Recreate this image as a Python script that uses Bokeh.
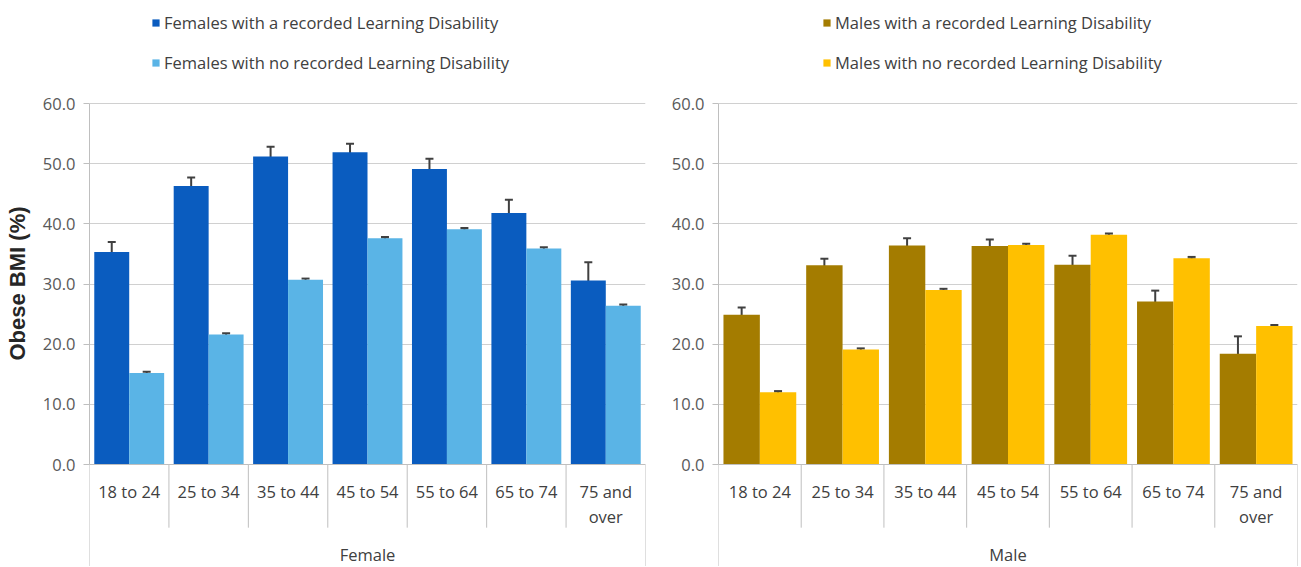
from bokeh.plotting import figure
from bokeh.models import (ColumnDataSource, FactorRange, Range1d, Legend, LegendItem,
                          Whisker, TeeHead, FixedTicker, NumeralTickFormatter)
from bokeh.transform import dodge
from bokeh.layouts import row
from bokeh.core.properties import value
from bokeh.embed import file_html
from bokeh.resources import INLINE

ages = ["18 to 24", "25 to 34", "35 to 44", "45 to 54", "55 to 64", "65 to 74", "75 and over"]
age_labels = ["18 to 24", "25 to 34", "35 to 44", "45 to 54", "55 to 64", "65 to 74", "75 and\nover"]

female_ld = [35.3, 46.3, 51.2, 51.9, 49.1, 41.8, 30.6]
female_ld_err = [1.7, 1.4, 1.6, 1.4, 1.7, 2.2, 3.0]
female_no = [15.2, 21.6, 30.7, 37.6, 39.1, 35.9, 26.4]
female_no_err = [0.2, 0.2, 0.2, 0.2, 0.2, 0.2, 0.2]

male_ld = [24.9, 33.1, 36.4, 36.3, 33.2, 27.1, 18.4]
male_ld_err = [1.2, 1.1, 1.2, 1.1, 1.5, 1.8, 2.9]
male_no = [12.0, 19.1, 29.0, 36.5, 38.2, 34.3, 23.0]
male_no_err = [0.2, 0.2, 0.2, 0.2, 0.2, 0.2, 0.2]

y_ticks = [0, 10, 20, 30, 40, 50, 60]

FONT = "Open Sans"
TXT = "#404040"
GRID = "#d0d0d0"
AXIS = "#bfbfbf"

H = 566
PX = 361 / 60.0
Y1 = 60 + 103 / PX
Y0 = -(H - 464) / PX


def make_panel(group, ld, ld_err, no, no_err, c_dark, c_light, lab_ld, lab_no,
               width, border_left, border_right, legend_x, ylabel):
    p = figure(x_range=FactorRange(*ages), y_range=Range1d(Y0, Y1),
               width=width, height=H, output_backend="svg", toolbar_location=None,
               x_axis_location=None, min_border_left=border_left,
               min_border_right=border_right, min_border_top=0, min_border_bottom=0)
    p.outline_line_color = None
    p.background_fill_color = "white"
    p.border_fill_color = "white"

    src = ColumnDataSource(dict(
        age=ages, label=age_labels, ld=ld, no=no,
        ld_lo=[v - e for v, e in zip(ld, ld_err)], ld_hi=[v + e for v, e in zip(ld, ld_err)],
        no_lo=[v - e for v, e in zip(no, no_err)], no_hi=[v + e for v, e in zip(no, no_err)],
        zero=[0] * len(ages), laby=[-2.5] * len(ages),
    ))

    # grid
    p.ygrid.ticker = FixedTicker(ticks=y_ticks)
    p.ygrid.grid_line_color = GRID
    p.ygrid.bounds = (0, 60)
    p.xgrid.grid_line_color = None

    # y axis
    ax = p.yaxis[0]
    ax.ticker = FixedTicker(ticks=y_ticks)
    ax.formatter = NumeralTickFormatter(format="0.0")
    ax.bounds = (0, 60)
    ax.axis_line_color = AXIS
    ax.major_tick_line_color = AXIS
    ax.major_tick_out = 6
    ax.major_tick_in = 0
    ax.minor_tick_line_color = None
    ax.major_label_text_font = FONT
    ax.major_label_text_font_size = "16.5px"
    ax.major_label_text_color = "#595959"
    ax.major_label_standoff = 8
    if ylabel:
        ax.axis_label = ylabel
        ax.axis_label_text_font = "Liberation Sans"
        ax.axis_label_text_font_style = "bold"
        ax.axis_label_text_font_size = "22px"
        ax.axis_label_text_color = "#262626"
        ax.axis_label_standoff = 10

    r1 = p.vbar(x=dodge("age", -0.22, range=p.x_range), top="ld", width=0.44,
                source=src, fill_color=c_dark, line_color=None)
    r2 = p.vbar(x=dodge("age", 0.22, range=p.x_range), top="no", width=0.44,
                source=src, fill_color=c_light, line_color=None)

    for off, lo, hi in [(-0.22, "ld_lo", "ld_hi"), (0.22, "no_lo", "no_hi")]:
        w = Whisker(base=dodge("age", off, range=p.x_range), lower=lo, upper=hi, source=src,
                    line_color="#404040", line_width=2,
                    upper_head=TeeHead(size=8, line_color="#404040", line_width=2),
                    lower_head=TeeHead(size=8, line_color="#404040", line_width=2))
        p.add_layout(w)

    # x axis baseline
    p.segment(x0=dodge("age", -0.5, range=p.x_range), x1=dodge("age", 0.5, range=p.x_range),
              y0="zero", y1="zero", source=src, line_color=AXIS, line_width=1)

    # category separators
    inner_bottom = [-10.5] * len(ages)
    inner_bottom[0] = Y0
    sep = ColumnDataSource(dict(age=ages, top=[0] * len(ages), bottom=inner_bottom))
    p.segment(x0=dodge("age", -0.5, range=p.x_range), x1=dodge("age", -0.5, range=p.x_range),
              y0="top", y1="bottom", source=sep, line_color=AXIS, line_width=1)
    last = ColumnDataSource(dict(age=[ages[-1]], top=[0], bottom=[Y0]))
    p.segment(x0=dodge("age", 0.5, range=p.x_range), x1=dodge("age", 0.5, range=p.x_range),
              y0="top", y1="bottom", source=last, line_color=AXIS, line_width=1)

    # category labels
    p.text(x="age", y="laby", text="label", source=src,
           text_font=value(FONT), text_font_size="16.5px", text_color=TXT,
           text_align="center", text_baseline="top", text_line_height=1.1)
    # group label
    p.text(x=[ages[3]], y=[Y0 + 0.1], text=[group], text_font=value(FONT),
           text_font_size="16.5px", text_color=TXT, text_align="center",
           text_baseline="bottom")

    legend = Legend(items=[LegendItem(label=lab_ld, renderers=[r1]),
                           LegendItem(label=lab_no, renderers=[r2])],
                    location=(legend_x, 492), orientation="vertical",
                    padding=0, margin=0, spacing=17, glyph_width=9, glyph_height=9,
                    label_height=16, label_standoff=4,
                    label_text_font=FONT, label_text_font_size="16.5px",
                    label_text_color=TXT, border_line_color=None,
                    background_fill_alpha=0)
    p.add_layout(legend)
    return p


left = make_panel("Female", female_ld, female_ld_err, female_no, female_no_err,
                  "#0A5CBF", "#5AB4E6",
                  "Females with a recorded Learning Disability",
                  "Females with no recorded Learning Disability",
                  650, 89, 5, 62, "Obese BMI (%)")
right = make_panel("Male", male_ld, male_ld_err, male_no, male_no_err,
                   "#A47C00", "#FFC000",
                   "Males with a recorded Learning Disability",
                   "Males with no recorded Learning Disability",
                   650, 68, 3, 104, None)

layout = row(left, right)
open("out.html", "w").write(file_html(layout, INLINE))
